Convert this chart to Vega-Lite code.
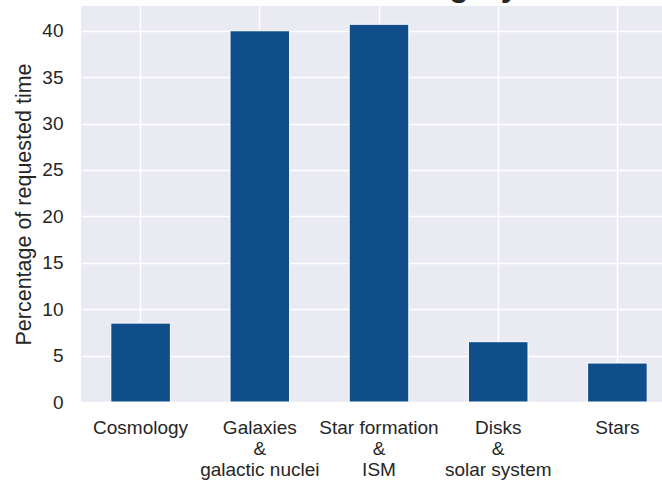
{
  "$schema": "https://vega.github.io/schema/vega-lite/v6.json",
  "width": 596,
  "height": 396,
  "autosize": {"type": "none"},
  "padding": {"left": 81, "top": 6, "right": 0, "bottom": 80},
  "background": "white",
  "title": {
    "text": "Science category",
    "fontSize": 32,
    "fontWeight": "bold",
    "font": "Liberation Sans",
    "color": "#262626",
    "anchor": "middle",
    "baseline": "alphabetic",
    "offset": 0,
    "dy": 22,
    "dx": 8
  },
  "data": {
    "values": [
      {"category": "Cosmology", "pct": 8.5},
      {"category": "Galaxies\n&\ngalactic nuclei", "pct": 40.0},
      {"category": "Star formation\n&\nISM", "pct": 40.7},
      {"category": "Disks\n&\nsolar system", "pct": 6.5},
      {"category": "Stars", "pct": 4.2}
    ]
  },
  "mark": {"type": "bar", "color": "#104E8B", "stroke": "white", "strokeWidth": 1},
  "encoding": {
    "x": {
      "field": "category",
      "type": "nominal",
      "sort": null,
      "scale": {"paddingInner": 0.5, "paddingOuter": 0.25},
      "axis": {
        "title": null,
        "labelAngle": 0,
        "grid": true,
        "bandPosition": 0.5,
        "labelExpr": "split(datum.value, '\\n')",
        "labelBaseline": "top",
        "labelLineHeight": 21,
        "labelPadding": 16
      }
    },
    "y": {
      "field": "pct",
      "type": "quantitative",
      "scale": {"domain": [0, 42.67], "nice": false},
      "axis": {
        "title": "Percentage of requested time",
        "values": [0, 5, 10, 15, 20, 25, 30, 35, 40],
        "labelPadding": 18,
        "titlePadding": 6
      }
    }
  },
  "config": {
    "view": {"fill": "#EAEAF2", "stroke": null},
    "axis": {
      "domain": false,
      "ticks": false,
      "gridColor": "white",
      "gridWidth": 1.5,
      "gridOpacity": 1,
      "labelFont": "Liberation Sans",
      "labelFontSize": 19,
      "labelColor": "#262626",
      "titleFont": "Liberation Sans",
      "titleFontSize": 21.5,
      "titleFontWeight": "normal",
      "titleColor": "#262626"
    }
  }
}
